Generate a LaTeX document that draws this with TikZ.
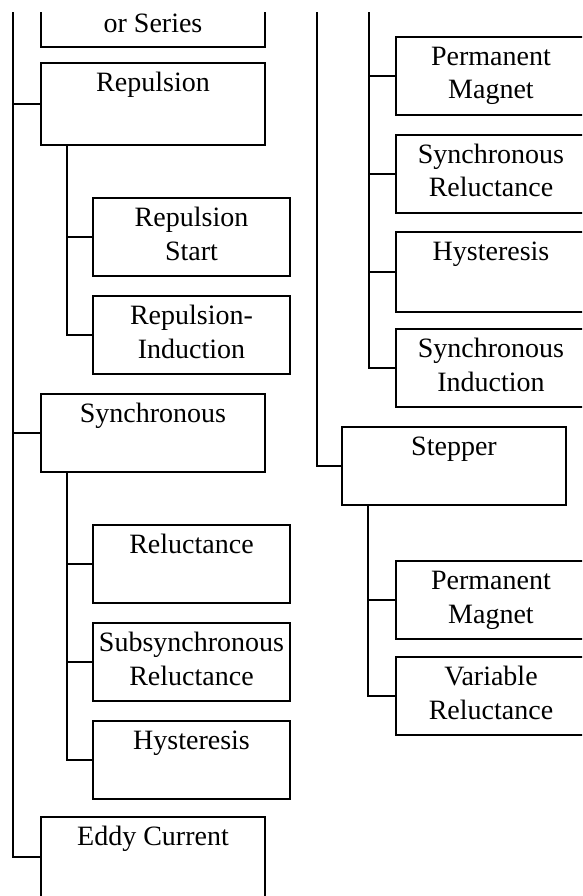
\documentclass[tikz,border=0pt]{standalone}
\usepackage{fontspec}
\setmainfont{Liberation Serif}
\newcommand\twol[2]{\begin{tabular}[t]{@{}c@{}}#1\\#2\end{tabular}}
\begin{document}
\begin{tikzpicture}[x=1pt,y=-1pt,
  box/.style={draw=black,line width=2pt,rectangle,inner sep=0pt,fill=none},
  lbl/.style={anchor=base,inner sep=0pt,font=\fontsize{28}{33.5}\selectfont},
  link/.style={draw=black,line width=2pt}]
\useasboundingbox (0,0) rectangle (582,896);
\begin{scope}
\clip (0,13) rectangle (582,896);
% left column main boxes
\node[box,minimum width=224pt,minimum height=78pt] (ser) at (153,8) {};
\node[box,minimum width=224pt,minimum height=82pt] (rep) at (153,104) {};
\node[box,minimum width=224pt,minimum height=78pt] (syn) at (153,433) {};
\node[box,minimum width=224pt,minimum height=80pt] (edd) at (153,857) {};
% left sub boxes
\node[box,minimum width=197pt,minimum height=78pt] (rs) at (191.5,237) {};
\node[box,minimum width=197pt,minimum height=78pt] (ri) at (191.5,335) {};
\node[box,minimum width=197pt,minimum height=78pt] (rel) at (191.5,564) {};
\node[box,minimum width=197pt,minimum height=78pt] (sub) at (191.5,662) {};
\node[box,minimum width=197pt,minimum height=78pt] (hys) at (191.5,760) {};
% right column
\node[box,minimum width=190pt,minimum height=78pt] (pma) at (491,76) {};
\node[box,minimum width=190pt,minimum height=78pt] (sr) at (491,174) {};
\node[box,minimum width=190pt,minimum height=80pt] (hyb) at (491,272) {};
\node[box,minimum width=190pt,minimum height=78pt] (si) at (491,368) {};
\node[box,minimum width=224pt,minimum height=78pt] (stp) at (454,466) {};
\node[box,minimum width=190pt,minimum height=78pt] (pmb) at (491,600) {};
\node[box,minimum width=190pt,minimum height=78pt] (vr) at (491,696) {};
% labels
\node[lbl] (tser) at ([yshift=15pt]ser.south) {or Series};
\node[lbl] (trep) at ([yshift=-29.5pt]rep.north) {Repulsion};
\node[lbl] (tsyn) at ([yshift=-29.5pt]syn.north) {Synchronous};
\node[lbl] (tedd) at ([yshift=-29.5pt]edd.north) {Eddy Current};
\node[lbl] (trs) at ([yshift=-29.5pt]rs.north) {\twol{Repulsion}{Start}};
\node[lbl] (tri) at ([yshift=-29.5pt]ri.north) {\twol{Repulsion-}{Induction}};
\node[lbl] (trel) at ([yshift=-29.5pt]rel.north) {Reluctance};
\node[lbl] (tsub) at ([yshift=-29.5pt]sub.north) {\twol{Subsynchronous}{Reluctance}};
\node[lbl] (thys) at ([yshift=-29.5pt]hys.north) {Hysteresis};
\node[lbl] (tpma) at ([yshift=-29.5pt]pma.north) {\twol{Permanent}{Magnet}};
\node[lbl] (tsr) at ([yshift=-29.5pt]sr.north) {\twol{Synchronous}{Reluctance}};
\node[lbl] (thyb) at ([yshift=-29.5pt]hyb.north) {Hysteresis};
\node[lbl] (tsi) at ([yshift=-29.5pt]si.north) {\twol{Synchronous}{Induction}};
\node[lbl] (tstp) at ([yshift=-29.5pt]stp.north) {Stepper};
\node[lbl] (tpmb) at ([yshift=-29.5pt]pmb.north) {\twol{Permanent}{Magnet}};
\node[lbl] (tvr) at ([yshift=-29.5pt]vr.north) {\twol{Variable}{Reluctance}};
% connectors
\coordinate (lt) at (13,0);
\coordinate (rta) at (317,0);
\coordinate (rtb) at (369,0);
\draw[link] (lt) |- (edd.west);
\draw[link] (lt |- rep.west) -- (rep.west);
\draw[link] (lt |- syn.west) -- (syn.west);
\draw[link] ([xshift=27pt]rep.south west) |- (ri.west);
\draw[link] ([xshift=27pt]rep.south west |- rs.west) -- (rs.west);
\draw[link] ([xshift=27pt]syn.south west) |- (hys.west);
\draw[link] ([xshift=27pt]syn.south west |- rel.west) -- (rel.west);
\draw[link] ([xshift=27pt]syn.south west |- sub.west) -- (sub.west);
\draw[link] (rta) |- (stp.west);
\draw[link] (rtb) |- (si.west);
\draw[link] (rtb |- pma.west) -- (pma.west);
\draw[link] (rtb |- sr.west) -- (sr.west);
\draw[link] (rtb |- hyb.west) -- (hyb.west);
\draw[link] ([xshift=27pt]stp.south west) |- (vr.west);
\draw[link] ([xshift=27pt]stp.south west |- pmb.west) -- (pmb.west);
\end{scope}
\end{tikzpicture}
\end{document}
